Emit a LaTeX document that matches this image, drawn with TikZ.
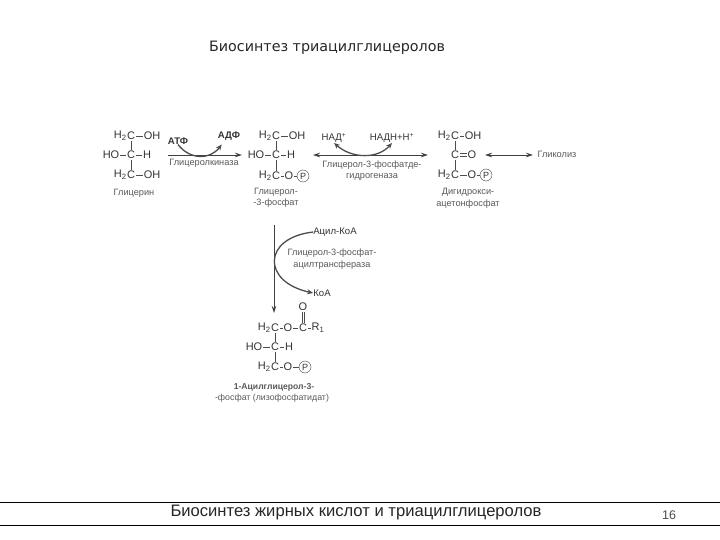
\documentclass[tikz,border=0pt]{standalone}
\usepackage{fontspec}
\setmainfont{Liberation Sans}
\newfontfamily\titlefont{DejaVu Sans}
\usetikzlibrary{positioning,arrows.meta}

\begin{document}
\begin{tikzpicture}[
    x=1pt, y=-1pt,
    atom/.style={inner sep=0.6pt, font=\fontsize{11}{12}\selectfont, text=black!80},
    hyd/.style={inner sep=0pt, font=\fontsize{11}{12}\selectfont, text=black!80},
    label/.style={inner sep=0pt, align=center, font=\fontsize{9.2}{11.5}\selectfont, text=black!65},
    cofactor/.style={inner sep=0pt, font=\fontsize{9.6}{11}\selectfont, text=black!80},
    phos/.style={circle, draw=black!75, inner sep=0pt, minimum size=12pt, font=\fontsize{9}{10}\selectfont, text=black!80},
    bond/.style={black!70, line width=0.6pt},
    arrow/.style={-{Stealth[length=7pt,width=4.5pt]}, black!75, line width=0.8pt},
    twoway/.style={{Stealth[length=7pt,width=4.5pt]}-{Stealth[length=7pt,width=4.5pt]}, black!75, line width=0.8pt},
    curved/.style={black!70, line width=1.3pt}
]
\useasboundingbox (0,0) rectangle (720,540);

% --- Title and footer ---
\node[inner sep=0pt, font=\titlefont\fontsize{14.3}{16}\selectfont, text=black!85] (title) at (327,48) {Биосинтез триацилглицеролов};
\coordinate (ruleAl) at (0,502);
\coordinate (ruleAr) at (720,502);
\coordinate (ruleBl) at (0,525);
\coordinate (ruleBr) at (720,525);
\draw[black, line width=0.8pt] (ruleAl) -- (ruleAr);
\draw[black, line width=0.8pt] (ruleBl) -- (ruleBr);
\node[inner sep=0pt, font=\fontsize{16.6}{18}\selectfont, text=black!85] (foot) at (356,513) {Биосинтез жирных кислот и триацилглицеролов};
\node[inner sep=0pt, font=\fontsize{12.5}{14}\selectfont, text=black!70] (page) at (669,515) {16};

% --- Glycerol ---
\node[atom] (g1) at (131,136) {C};
\node[hyd, left=-0.6pt of g1] {H\textsubscript{2}};
\node[atom] (g1o) at (152,136) {OH};
\node[atom] (g2) at (131,155) {C};
\node[atom] (g2o) at (111,155) {HO};
\node[atom] (g2h) at (147,155) {H};
\node[atom] (g3) at (131,175) {C};
\node[hyd, left=-0.6pt of g3] {H\textsubscript{2}};
\node[atom] (g3o) at (152,175) {OH};
\draw[bond] (g1) -- (g1o);
\draw[bond] (g2) -- (g2o);
\draw[bond] (g2) -- (g2h);
\draw[bond] (g3) -- (g3o);
\draw[bond] (g1) -- (g2);
\draw[bond] (g2) -- (g3);
\node[label] (glabel) at (134,193) {Глицерин};

% --- Glycerol-3-phosphate ---
\node[atom] (p1) at (276,136) {C};
\node[hyd, left=-0.6pt of p1] {H\textsubscript{2}};
\node[atom] (p1o) at (297,136) {OH};
\node[atom] (p2) at (276,155) {C};
\node[atom] (p2o) at (256,155) {HO};
\node[atom] (p2h) at (291,155) {H};
\node[atom] (p3) at (276,176) {C};
\node[hyd, left=-0.6pt of p3] {H\textsubscript{2}};
\node[atom] (p3o) at (289,176) {O};
\node[phos] (p3p) at (303,176) {P};
\draw[bond] (p1) -- (p1o);
\draw[bond] (p2) -- (p2o);
\draw[bond] (p2) -- (p2h);
\draw[bond] (p3) -- (p3o);
\draw[bond] (p3o) -- (p3p);
\draw[bond] (p1) -- (p2);
\draw[bond] (p2) -- (p3);
\node[label] (plabel) at (276,198) {Глицерол-\\-3-фосфат};

% --- Dihydroxyacetone phosphate ---
\node[atom] (d1) at (455,136) {C};
\node[hyd, left=-0.6pt of d1] {H\textsubscript{2}};
\node[atom] (d1o) at (473,136) {OH};
\node[atom] (d2) at (455,155) {C};
\node[atom] (d2o) at (472,155) {O};
\node[atom] (d3) at (455,175) {C};
\node[hyd, left=-0.6pt of d3] {H\textsubscript{2}};
\node[atom] (d3o) at (472,175) {O};
\node[phos] (d3p) at (486,175) {P};
\draw[bond] (d1) -- (d1o);
\draw[bond] ([yshift=1.2pt]d2.east) -- ([yshift=1.2pt]d2o.west);
\draw[bond] ([yshift=-1.2pt]d2.east) -- ([yshift=-1.2pt]d2o.west);
\draw[bond] (d3) -- (d3o);
\draw[bond] (d3o) -- (d3p);
\draw[bond] (d1) -- (d2);
\draw[bond] (d2) -- (d3);
\node[label] (dlabel) at (468,198.5) {Дигидрокси-\\ацетонфосфат};

% Glycolysis
\node[label] (glyc) at (557,154) {Гликолиз};
\coordinate (glycfrom) at (485,155);
\coordinate (glycto) at (533,155);
\draw[twoway] (glycfrom) -- (glycto);

% --- Kinase step ---
\coordinate (kfrom) at (168,155);
\coordinate (kto) at (242,155);
\draw[arrow] (kfrom) -- (kto);
\node[cofactor, font=\bfseries\fontsize{9.6}{11}\selectfont] (atp) at (178,141) {АТФ};
\node[cofactor, font=\bfseries\fontsize{9.6}{11}\selectfont] (adp) at (229,136) {АДФ};
\draw[curved, -{Stealth[length=6pt,width=5pt]}] (atp.south) .. controls (190,160) and (210,160) .. ([xshift=4pt,yshift=-4pt]adp.south west);
\node[label] (kin) at (204,163) {Глицеролкиназа};

% --- Dehydrogenase step ---
\coordinate (hfrom) at (313,155);
\coordinate (hto) at (428,155);
\draw[twoway] (hfrom) -- (hto);
\node[cofactor] (nad) at (334,138) {НАД\textsuperscript{+}};
\node[cofactor] (nadh) at (392,138) {НАДН+Н\textsuperscript{+}};
\draw[curved, {Stealth[length=6pt,width=5pt]}-{Stealth[length=6pt,width=5pt]}] (nad.south) .. controls (352,159) and (378,159) .. (nadh.south);
\node[label] (dehyd) at (372,170.5) {Глицерол-3-фосфатде-\\гидрогеназа};

% --- Acyltransferase step ---
\coordinate (tfrom) at (274,225);
\coordinate (tto) at (274,313);
\draw[arrow] (tfrom) -- (tto);
\node[cofactor] (acyl) at (335,232) {Ацил-КоА};
\node[cofactor] (coa) at (322,293) {КоА};
\draw[curved, -{Stealth[length=6pt,width=5pt]}] (acyl.west) .. controls (262,238) and (262,282) .. (coa.west);
\node[label] (trans) at (332,259) {Глицерол-3-фосфат-\\ацилтрансфераза};

% --- 1-Acylglycerol-3-phosphate ---
\node[atom] (a1) at (275,328) {C};
\node[hyd, left=-0.6pt of a1] {H\textsubscript{2}};
\node[atom] (a1o) at (288,328) {O};
\node[atom] (a1c) at (303,328) {C};
\node[atom] (a1r) at (318,328) {R\textsubscript{1}};
\node[atom] (a1d) at (303,307) {O};
\node[atom] (a2) at (275,347) {C};
\node[atom] (a2o) at (254,347) {HO};
\node[atom] (a2h) at (289,347) {H};
\node[atom] (a3) at (275,367) {C};
\node[hyd, left=-0.6pt of a3] {H\textsubscript{2}};
\node[atom] (a3o) at (288,367) {O};
\node[phos] (a3p) at (305,367) {P};
\draw[bond] (a1) -- (a1o);
\draw[bond] (a1o) -- (a1c);
\draw[bond] (a1c) -- (a1r);
\draw[bond] ([xshift=1.2pt]a1c.north) -- ([xshift=1.2pt]a1d.south);
\draw[bond] ([xshift=-1.2pt]a1c.north) -- ([xshift=-1.2pt]a1d.south);
\draw[bond] (a1) -- (a2);
\draw[bond] (a2) -- (a2o);
\draw[bond] (a2) -- (a2h);
\draw[bond] (a2) -- (a3);
\draw[bond] (a3) -- (a3o);
\draw[bond] (a3o) -- (a3p);
\node[label, font=\bfseries\fontsize{8.6}{11}\selectfont] (alabel) at (274,387) {1-Ацилглицерол-3-};
\node[label, font=\fontsize{8.8}{11}\selectfont] (alabel2) at (272,398) {-фосфат (лизофосфатидат)};

\end{tikzpicture}
\end{document}
